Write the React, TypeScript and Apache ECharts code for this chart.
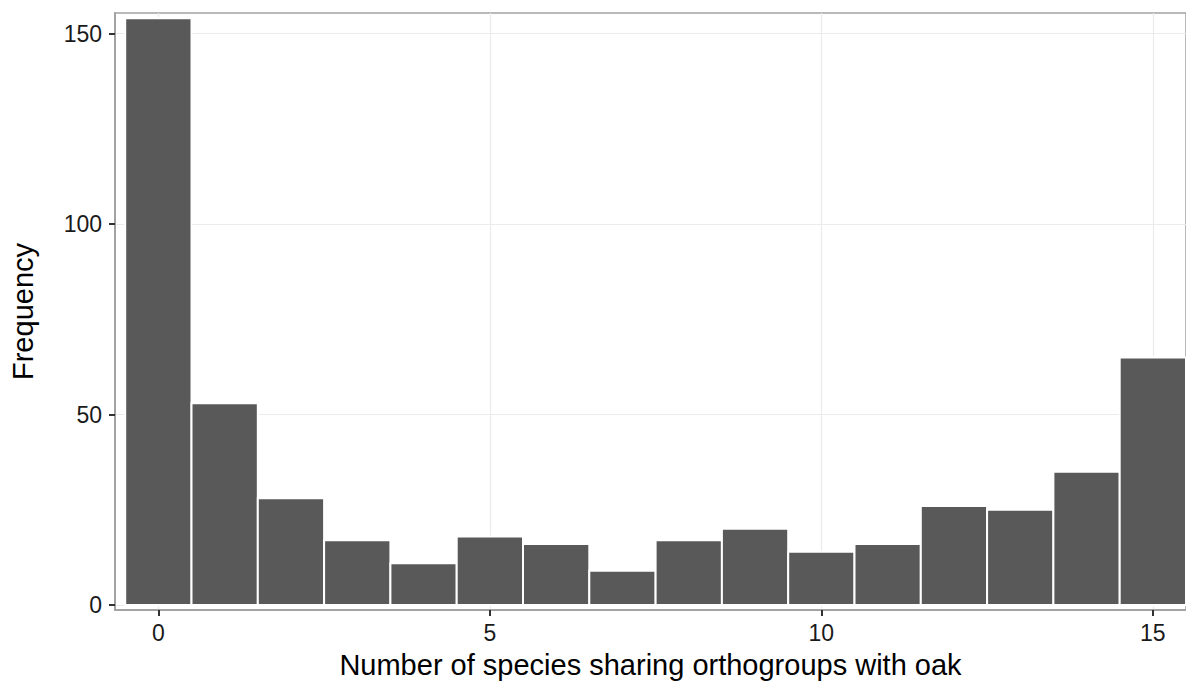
import React, { useEffect, useRef } from "react";
import * as echarts from "echarts";

// Histogram counts: number of orthogroups shared with oak by N species
const speciesCounts = [0, 1, 2, 3, 4, 5, 6, 7, 8, 9, 10, 11, 12, 13, 14, 15];
const frequencies = [154, 53, 28, 17, 11, 18, 16, 9, 17, 20, 14, 16, 26, 25, 35, 65];
const xTickValues = [0, 5, 10, 15];
const yTickValues = [0, 50, 100, 150];

const xTitle = "Number of species sharing orthogroups with oak";
const yTitle = "Frequency";

export default function App() {
  const ref = useRef<HTMLDivElement>(null);

  useEffect(() => {
    document.body.style.margin = "0";
    if (!ref.current) return;
    const chart = echarts.init(ref.current, null, { renderer: "svg" });

    const data = speciesCounts.map((x, i) => [x, frequencies[i]]);
    const font = "'Liberation Sans', Arial, Helvetica, sans-serif";

    chart.setOption({
      animation: false,
      backgroundColor: "#ffffff",
      grid: {
        left: 112,
        top: 13,
        right: 0,
        bottom: 72,
        show: true,
        borderColor: "#a3a3a3",
        borderWidth: 1.5,
        backgroundColor: "transparent",
      },
      xAxis: {
        type: "value",
        min: -0.654,
        max: 15.5,
        splitNumber: 3,
        name: xTitle,
        nameLocation: "middle",
        nameGap: 40,
        nameTextStyle: { fontFamily: font, fontSize: 29, color: "#000" },
        axisLine: { show: true, onZero: false, lineStyle: { color: "#a3a3a3", width: 2 } },
        axisTick: {
          show: true,
          customValues: xTickValues,
          length: 6,
          lineStyle: { color: "#333", width: 2 },
        },
        axisLabel: {
          customValues: xTickValues,
          fontFamily: font,
          fontSize: 23,
          color: "#1a1a1a",
          margin: 11,
        },
        splitLine: { show: true, lineStyle: { color: "#ebebeb", width: 1.2 } },
      },
      yAxis: {
        type: "value",
        min: -1.3,
        max: 155.4,
        splitNumber: 3,
        name: yTitle,
        nameLocation: "middle",
        nameGap: 78,
        nameTextStyle: { fontFamily: font, fontSize: 29, color: "#000" },
        axisLine: { show: true, onZero: false, lineStyle: { color: "#a3a3a3", width: 2 } },
        axisTick: {
          show: true,
          customValues: yTickValues,
          length: 6,
          lineStyle: { color: "#333", width: 2 },
        },
        axisLabel: {
          customValues: yTickValues,
          fontFamily: font,
          fontSize: 23,
          color: "#1a1a1a",
          margin: 13,
        },
        splitLine: { show: true, lineStyle: { color: "#ebebeb", width: 1.2 } },
      },
      series: [
        {
          type: "custom",
          data,
          clip: true,
          renderItem: (params: any, api: any) => {
            const x = api.value(0);
            const y = api.value(1);
            const topLeft = api.coord([x - 0.5, y]);
            const bottomRight = api.coord([x + 0.5, 0]);
            return {
              type: "rect",
              shape: {
                x: topLeft[0],
                y: topLeft[1],
                width: bottomRight[0] - topLeft[0],
                height: bottomRight[1] - topLeft[1],
              },
              style: {
                fill: "#595959",
                stroke: "#ffffff",
                lineWidth: 2,
              },
            };
          },
        },
      ],
    });

    return () => chart.dispose();
  }, []);

  return <div ref={ref} style={{ width: 1186, height: 684 }} />;
}
